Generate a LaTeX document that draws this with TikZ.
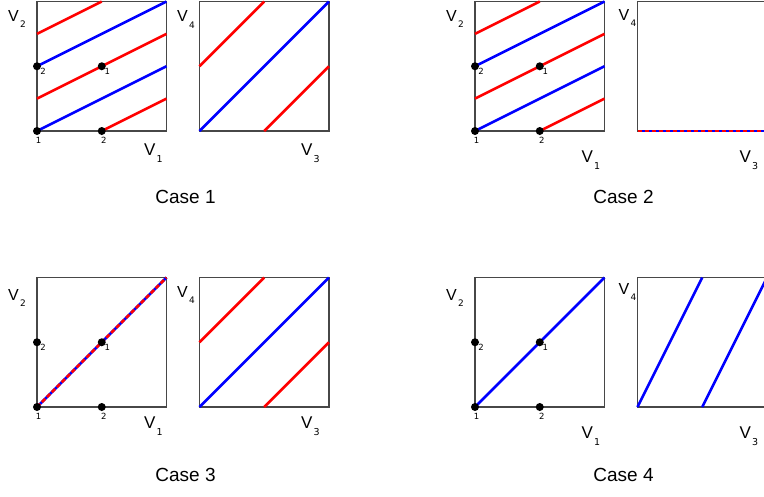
\documentclass[tikz,border=0pt]{standalone}
\usepackage{fontspec}
\setmainfont{Liberation Sans}
\newfontfamily\smallfont{DejaVu Sans}
\newcommand\Vsub[2]{V\kern1.2pt\raisebox{-0.42em}{\smallfont\fontsize{#2}{#2}\selectfont #1}}
\tikzset{
  frame/.style={draw=black!72, line width=1.1pt},
  redl/.style={draw=red, line width=2.6pt},
  bluel/.style={draw=blue, line width=2.6pt},
  mixl/.style={draw=red, line width=2.6pt, dash pattern=on 4.5pt off 2.5pt},
  dot/.style={circle, fill=black, inner sep=0pt, minimum size=8pt},
  idx/.style={font=\smallfont\fontsize{8.5}{9}\selectfont, inner sep=0pt},
  vlab/.style={font=\fontsize{16}{17}\selectfont, inner sep=0pt, anchor=base west},
  vlabb/.style={font=\fontsize{17}{18}\selectfont, inner sep=0pt, anchor=base west},
  caption/.style={font=\fontsize{19}{20}\selectfont, inner sep=0pt},
  lbox/.style={x=129.5pt, y=129.5pt},
}
\begin{document}
\begin{tikzpicture}[x=1pt, y=-1pt]
\clip (0,0) rectangle (764,496);
\fill[white] (0,0) rectangle (764,496);

% ================= CASE 1 =================
\begin{scope}[shift={(37pt,-131pt)}, lbox]
  \draw[frame] (0,0) rectangle (1,1);
  \draw[redl] (0,0.75) -- (0.5,1);
  \draw[bluel] (0,0.5) -- (1,1);
  \draw[redl] (0,0.25) -- (1,0.75);
  \draw[bluel] (0,0) -- (1,0.5);
  \draw[redl] (0.5,0) -- (1,0.25);
  \node[dot] (a1) at (0,0) {};
  \node[dot] (a2) at (0.5,0) {};
  \node[dot] (a3) at (0,0.5) {};
  \node[dot] (a4) at (0.5,0.5) {};
\end{scope}
\node[idx] (a1l) at ([shift={(1.5pt,-9pt)}]a1) {1};
\node[idx] (a2l) at ([shift={(2pt,-9pt)}]a2) {2};
\node[idx] (a3l) at ([shift={(6pt,-5.5pt)}]a3) {2};
\node[idx] (a4l) at ([shift={(5.5pt,-5.5pt)}]a4) {1};
\begin{scope}[shift={(199.5pt,-131pt)}, lbox]
  \draw[frame] (0,0) rectangle (1,1);
  \draw[redl] (0,0.5) -- (0.5,1);
  \draw[bluel] (0,0) -- (1,1);
  \draw[redl] (0.5,0) -- (1,0.5);
\end{scope}
\node[vlab] (v2a) at (8,21) {\Vsub{2}{9}};
\node[vlab] (v4a) at (177,21.5) {\Vsub{4}{9}};
\node[vlabb] (v1a) at (144,155) {\Vsub{1}{9.5}};
\node[vlabb] (v3a) at (301,155) {\Vsub{3}{9.5}};
\node[caption] (c1) at (185.5,197) {Case 1};

% ================= CASE 2 =================
\begin{scope}[shift={(475pt,-131pt)}, lbox]
  \draw[frame] (0,0) rectangle (1,1);
  \draw[redl] (0,0.75) -- (0.5,1);
  \draw[bluel] (0,0.5) -- (1,1);
  \draw[redl] (0,0.25) -- (1,0.75);
  \draw[bluel] (0,0) -- (1,0.5);
  \draw[redl] (0.5,0) -- (1,0.25);
  \node[dot] (b1) at (0,0) {};
  \node[dot] (b2) at (0.5,0) {};
  \node[dot] (b3) at (0,0.5) {};
  \node[dot] (b4) at (0.5,0.5) {};
\end{scope}
\node[idx] (b1l) at ([shift={(1.5pt,-9pt)}]b1) {1};
\node[idx] (b2l) at ([shift={(2pt,-9pt)}]b2) {2};
\node[idx] (b3l) at ([shift={(6pt,-5.5pt)}]b3) {2};
\node[idx] (b4l) at ([shift={(5.5pt,-5.5pt)}]b4) {1};
\begin{scope}[shift={(637.5pt,-131pt)}, lbox]
  \draw[frame] (0,0) rectangle (1,1);
  \draw[bluel] (0,0) -- (1,0);
  \draw[mixl] (0,0) -- (1,0);
\end{scope}
\node[vlab] (v2b) at (446,21) {\Vsub{2}{9}};
\node[vlab] (v4b) at (618.5,20) {\Vsub{4}{9}};
\node[vlabb] (v1b) at (581.5,162) {\Vsub{1}{9.5}};
\node[vlabb] (v3b) at (739.5,162) {\Vsub{3}{9.5}};
\node[caption] (c2) at (623.5,197) {Case 2};

% ================= CASE 3 =================
\begin{scope}[shift={(37pt,-407pt)}, lbox]
  \draw[frame] (0,0) rectangle (1,1);
  \draw[bluel] (0,0) -- (1,1);
  \draw[mixl] (0,0) -- (1,1);
  \node[dot] (d1) at (0,0) {};
  \node[dot] (d2) at (0.5,0) {};
  \node[dot] (d3) at (0,0.5) {};
  \node[dot] (d4) at (0.5,0.5) {};
\end{scope}
\node[idx] (d1l) at ([shift={(1.5pt,-9pt)}]d1) {1};
\node[idx] (d2l) at ([shift={(2pt,-9pt)}]d2) {2};
\node[idx] (d3l) at ([shift={(6pt,-5.5pt)}]d3) {2};
\node[idx] (d4l) at ([shift={(5.5pt,-5.5pt)}]d4) {1};
\begin{scope}[shift={(199.5pt,-407pt)}, lbox]
  \draw[frame] (0,0) rectangle (1,1);
  \draw[redl] (0,0.5) -- (0.5,1);
  \draw[bluel] (0,0) -- (1,1);
  \draw[redl] (0.5,0) -- (1,0.5);
\end{scope}
\node[vlab] (v2c) at (8,300) {\Vsub{2}{9}};
\node[vlab] (v4c) at (177,297) {\Vsub{4}{9}};
\node[vlabb] (v1c) at (144,428) {\Vsub{1}{9.5}};
\node[vlabb] (v3c) at (301,428) {\Vsub{3}{9.5}};
\node[caption] (c3) at (185.5,475) {Case 3};

% ================= CASE 4 =================
\begin{scope}[shift={(475pt,-407pt)}, lbox]
  \draw[frame] (0,0) rectangle (1,1);
  \draw[bluel] (0,0) -- (1,1);
  \node[dot] (e1) at (0,0) {};
  \node[dot] (e2) at (0.5,0) {};
  \node[dot] (e3) at (0,0.5) {};
  \node[dot] (e4) at (0.5,0.5) {};
\end{scope}
\node[idx] (e1l) at ([shift={(1.5pt,-9pt)}]e1) {1};
\node[idx] (e2l) at ([shift={(2pt,-9pt)}]e2) {2};
\node[idx] (e3l) at ([shift={(6pt,-5.5pt)}]e3) {2};
\node[idx] (e4l) at ([shift={(5.5pt,-5.5pt)}]e4) {1};
\begin{scope}[shift={(637.5pt,-407pt)}, lbox]
  \draw[frame] (0,0) rectangle (1,1);
  \draw[bluel] (0,0) -- (0.5,1);
  \draw[bluel] (0.5,0) -- (1,1);
\end{scope}
\node[vlab] (v2d) at (446,300) {\Vsub{2}{9}};
\node[vlab] (v4d) at (618.5,294) {\Vsub{4}{9}};
\node[vlabb] (v1d) at (581.5,438) {\Vsub{1}{9.5}};
\node[vlabb] (v3d) at (739.5,438) {\Vsub{3}{9.5}};
\node[caption] (c4) at (623.5,475) {Case 4};
\end{tikzpicture}
\end{document}
